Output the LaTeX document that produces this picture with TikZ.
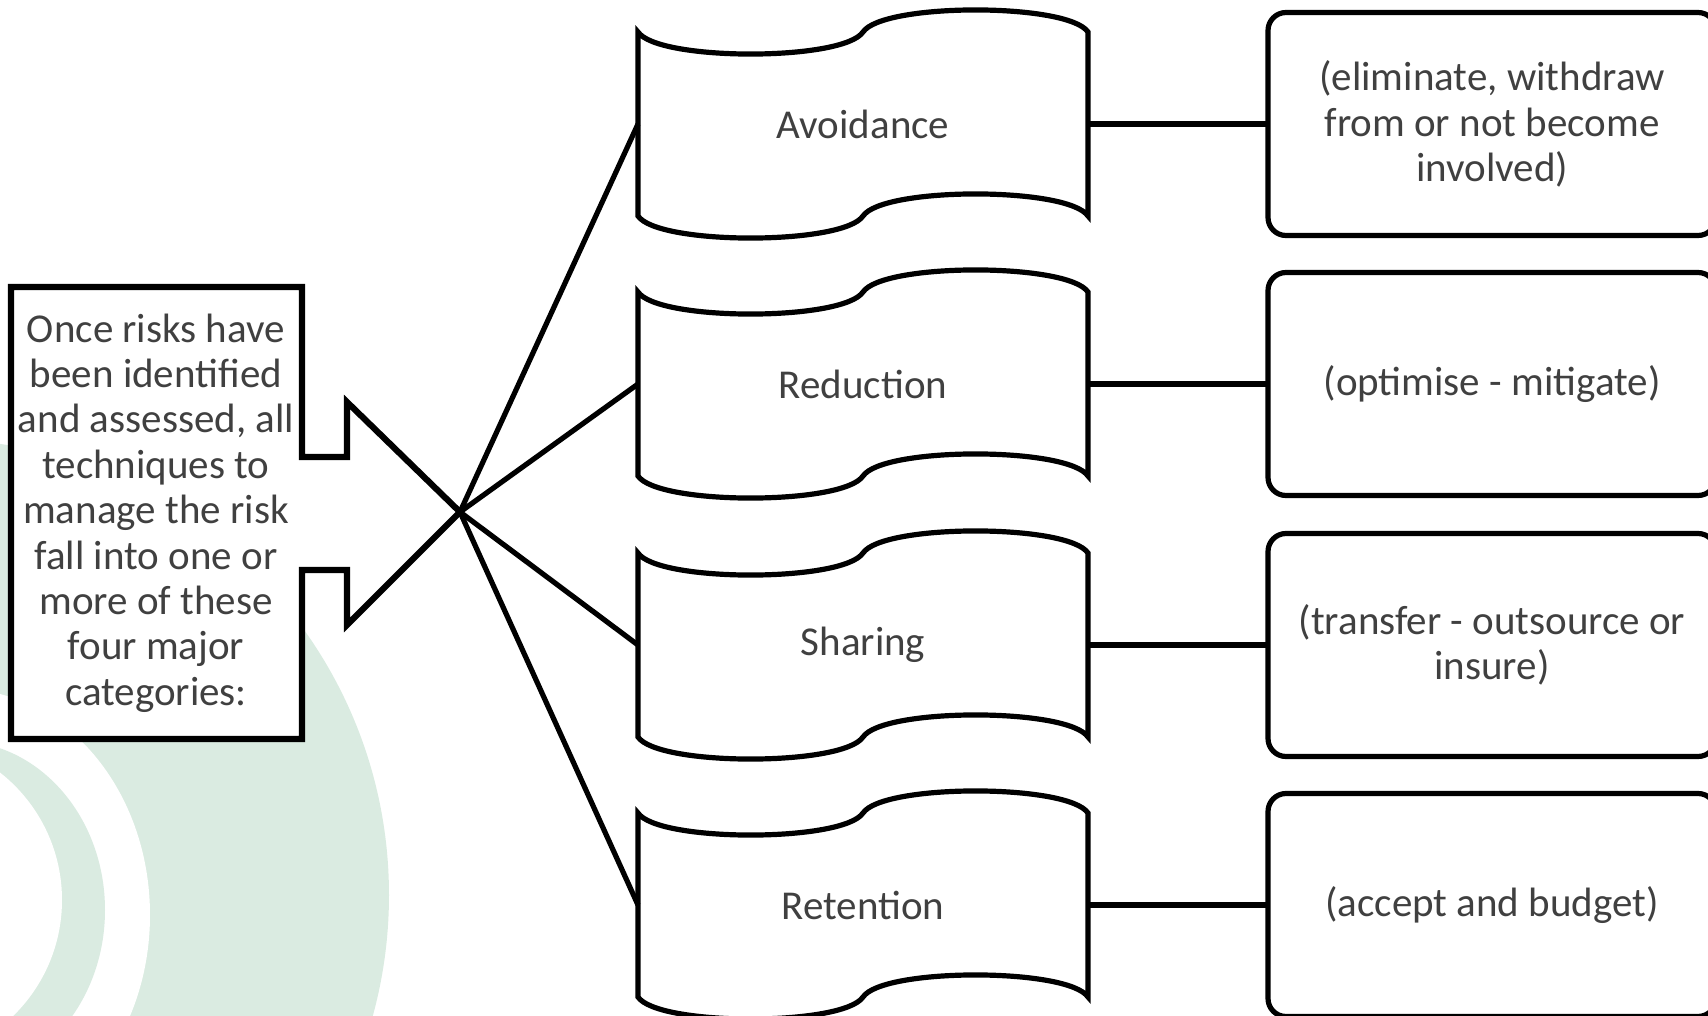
\documentclass[tikz,border=0pt]{standalone}
\usepackage{fontspec}
\setmainfont{Carlito}
\definecolor{ink}{RGB}{64,64,64}
\definecolor{mint}{RGB}{218,235,225}
\begin{document}
\begin{tikzpicture}[x=0.5pt,y=0.5pt,
  lbl/.style={font=\fontsize{20.5}{22.7}\selectfont, text=ink, align=center},
  outline/.style={draw=black, line width=2.6pt, line join=miter},
  tapebox/.style={lbl, inner sep=0pt, outer sep=0pt, minimum width=225pt, minimum height=92pt},
  notebox/.style={lbl, outline, fill=white, rounded corners=9pt, inner sep=0pt, outer sep=0pt,
                  minimum width=224pt, minimum height=111.5pt},
  link/.style={draw=black, line width=2.6pt}
]
\useasboundingbox (0,0) rectangle (1708,-1016);
\clip (0,0) rectangle (1708,-1016);

% pale rings in the lower left corner
\fill[mint]  (-67,-895)  circle[radius=228pt];
\fill[white] (-40,-915)  ellipse[x radius=95pt, y radius=113pt];
\fill[mint]  (-43,-910)  ellipse[x radius=74pt, y radius=84.5pt];
\fill[white] (-100,-900) circle[radius=81pt];

% box with arrow pointing right
\draw[outline, line width=3.1pt, fill=white]
  (11,-287) -- (302,-287) -- (302,-457) -- (347,-457) -- (347,-402)
  -- (460,-512) -- (347,-625) -- (347,-570) -- (302,-570) -- (302,-739)
  -- (11,-739) -- cycle;
\coordinate (tip) at (460,-512);
\node[lbl] (intro) at (156,-513)
  {Once risks have\\been identified\\and assessed, all\\techniques to\\manage the risk\\fall into one or\\more of these\\four major\\categories:};

% the four techniques (punched-tape outlines)
\node[tapebox] (avoid)  at (863,-124) {Avoidance};
\node[tapebox] (reduce) at (863,-384) {Reduction};
\node[tapebox] (share)  at (863,-645) {Sharing};
\node[tapebox] (retain) at (863,-905) {Retention};

\foreach \n in {avoid,reduce,share,retain}{
  \draw[outline] (\n.north west)
    .. controls +(10pt,-14.7pt) and +(-10pt,-14.7pt) .. ++(112.5pt,0pt)
    .. controls +(10pt,14.7pt)  and +(-10pt,14.7pt)  .. ++(112.5pt,0pt)
    -- (\n.south east)
    .. controls +(-10pt,14.7pt)  and +(10pt,14.7pt)  .. ++(-112.5pt,0pt)
    .. controls +(-10pt,-14.7pt) and +(10pt,-14.7pt) .. ++(-112.5pt,0pt)
    -- cycle;
}

% explanations
\node[notebox] (avoid-note)  at (1492,-124) {(eliminate, withdraw\\from or not become\\involved)};
\node[notebox] (reduce-note) at (1492,-384) {(optimise - mitigate)};
\node[notebox] (share-note)  at (1492,-645) {(transfer - outsource or\\insure)};
\node[notebox] (retain-note) at (1492,-905) {(accept and budget)};

% connectors
\foreach \n in {avoid,reduce,share,retain}{
  \draw[link] (tip) -- (\n.west);
  \draw[link] (\n.east) -- (\n-note.west);
}
\end{tikzpicture}
\end{document}
